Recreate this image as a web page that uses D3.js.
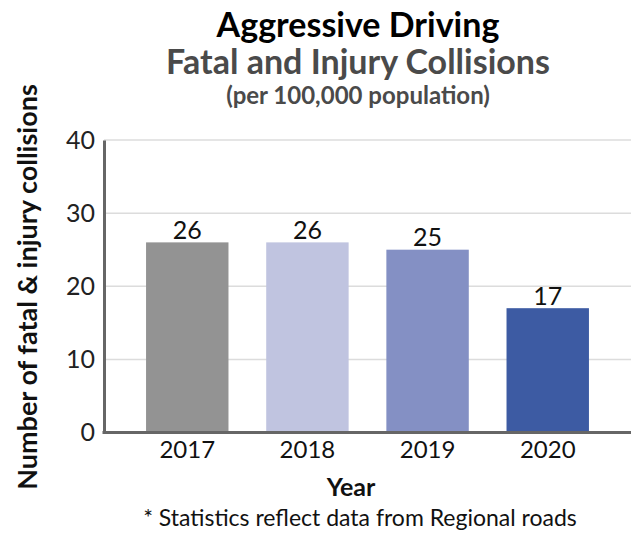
<!DOCTYPE html>
<html>
<head>
<meta charset="utf-8">
<script src="https://cdn.jsdelivr.net/npm/d3@7"></script>
<style>
  body { margin: 0; background: #fff; }
  svg text { font-family: Lato, "Open Sans", sans-serif; }
</style>
</head>
<body>
<div id="chart"></div>
<script>
// data
var years = ["2017", "2018", "2019", "2020"];
var rates = [26, 26, 25, 17];
var barColors = ["#939393", "#c0c4e0", "#8490c4", "#3d5ba3"];
var yTicks = [0, 10, 20, 30, 40];
var titleLines = ["Aggressive Driving", "Fatal and Injury Collisions", "(per 100,000 population)"];

var width = 631, height = 533;
var margin = {top: 140, right: 0, bottom: 100.5, left: 104};

var svg = d3.select("#chart").append("svg")
    .attr("width", width)
    .attr("height", height);

var x = d3.scaleBand()
    .domain(years)
    .range([margin.left, width - margin.right])
    .paddingInner(0.314)
    .paddingOuter(0.35);

var y = d3.scaleLinear()
    .domain([0, 40])
    .range([height - margin.bottom, margin.top]);

// gridlines
svg.append("g")
    .selectAll("line")
    .data(yTicks.filter(d => d > 0))
    .enter().append("line")
        .attr("x1", margin.left)
        .attr("x2", width)
        .attr("y1", d => y(d))
        .attr("y2", d => y(d))
        .attr("stroke", "#dcdcdc")
        .attr("stroke-width", 1.5);

// bars
svg.append("g")
    .selectAll("rect")
    .data(rates)
    .enter().append("rect")
        .attr("x", (d, i) => x(years[i]))
        .attr("y", d => y(d))
        .attr("width", x.bandwidth())
        .attr("height", d => y(0) - y(d))
        .attr("fill", (d, i) => barColors[i]);

// value labels
svg.append("g")
    .selectAll("text")
    .data(rates)
    .enter().append("text")
        .attr("x", (d, i) => x(years[i]) + x.bandwidth() / 2)
        .attr("y", d => y(d) - 3.5)
        .attr("text-anchor", "middle")
        .attr("font-size", 25)
        .attr("fill", "#111")
        .text(d => d);

// y axis
var yAxis = svg.append("g")
    .attr("transform", `translate(${margin.left},0)`)
    .call(d3.axisLeft(y).tickValues(yTicks).tickSize(0).tickPadding(9));
yAxis.select(".domain").attr("stroke", "#666").attr("stroke-width", 3);
yAxis.selectAll("text").attr("font-size", 25).attr("fill", "#222")
    .style("font-family", "Lato, sans-serif");

// x axis
var xAxis = svg.append("g")
    .attr("transform", `translate(0,${y(0)})`)
    .call(d3.axisBottom(x).tickSize(0).tickPadding(8));
xAxis.select(".domain")
    .attr("d", `M${margin.left - 1.5},0H${width}`)
    .attr("stroke", "#666").attr("stroke-width", 3);
xAxis.selectAll("text").attr("font-size", 24).attr("fill", "#111")
    .style("font-family", "Lato, sans-serif");

// titles
var titleColors = ["#000", "#4a4a4a", "#4a4a4a"];
var titleSizes = [34, 34, 24];
var titleYs = [37, 74, 104];
svg.append("g")
    .selectAll("text")
    .data(titleLines)
    .enter().append("text")
        .attr("x", 358)
        .attr("y", (d, i) => titleYs[i])
        .attr("text-anchor", "middle")
        .attr("font-weight", "bold")
        .attr("font-size", (d, i) => titleSizes[i])
        .attr("fill", (d, i) => titleColors[i])
        .text(d => d);

// axis titles
svg.append("text")
    .attr("transform", "translate(37,287) rotate(-90)")
    .attr("text-anchor", "middle")
    .attr("font-weight", "bold")
    .attr("font-size", 27)
    .attr("fill", "#111")
    .text("Number of fatal & injury collisions");

svg.append("text")
    .attr("x", 351)
    .attr("y", 496)
    .attr("text-anchor", "middle")
    .attr("font-weight", "bold")
    .attr("font-size", 25)
    .attr("fill", "#111")
    .text("Year");

svg.append("text")
    .attr("x", 360)
    .attr("y", 526)
    .attr("text-anchor", "middle")
    .attr("font-size", 23)
    .attr("fill", "#111")
    .text("* Statistics reflect data from Regional roads");
</script>
</body>
</html>
